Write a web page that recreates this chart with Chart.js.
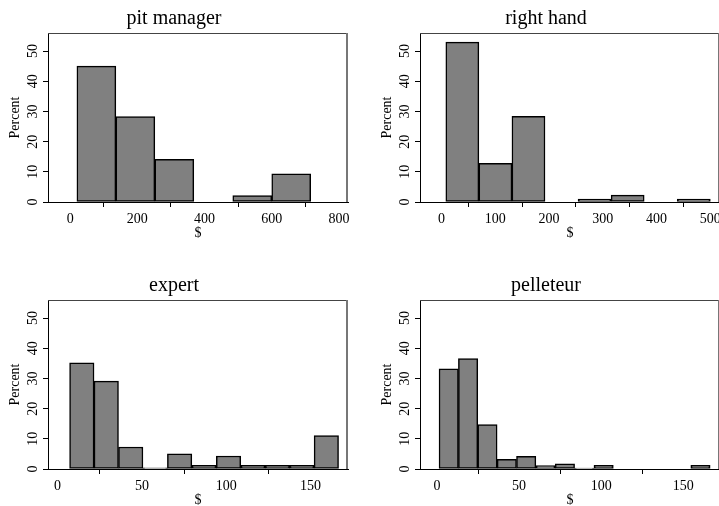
<!DOCTYPE html>
<html lang="en">
<head>
    <meta charset="UTF-8">
    <title>Histograms by job</title>
    <script src="https://cdn.jsdelivr.net/npm/chart.js"></script>
    <style>
        body {
            margin: 0;
            background: #fff;
            width: 719px;
            height: 506px;
            overflow: hidden;
            position: relative;
        }
        .panel {
            position: absolute;
            width: 360px;
            height: 242px;
        }
    </style>
</head>
<body>
    <div class="panel" style="left:0;top:0"><canvas id="c1"></canvas></div>
    <div class="panel" style="left:372px;top:0"><canvas id="c2"></canvas></div>
    <div class="panel" style="left:0;top:267px"><canvas id="c3"></canvas></div>
    <div class="panel" style="left:372px;top:267px"><canvas id="c4"></canvas></div>
    <script>
        // bin edges and percent per bin
        const pitEdges = [20, 136, 252, 368, 484, 600, 716];
        const pitPercent = [45, 28.3, 14.1, 0, 2.1, 9.3];
        const pitTicks = [0, 200, 400, 600, 800];

        const rightEdges = [8, 69.5, 131, 192.5, 254, 315.5, 377, 438.5, 500];
        const rightPercent = [53, 12.8, 28.4, 0, 1, 2.3, 0, 1];
        const rightTicks = [0, 100, 200, 300, 400, 500];

        const expertEdges = [7.1, 21.6, 36.1, 50.6, 65.1, 79.6, 94.1, 108.6, 123.1, 137.6, 152.1, 166.6];
        const expertPercent = [35.2, 29.1, 7.3, 0.4, 5, 1.2, 4.3, 1.2, 1.2, 1.2, 11.1];
        const expertTicks = [0, 50, 100, 150];

        const pellEdges = [1.2, 13, 24.8, 36.6, 48.4, 60.2, 72, 83.8, 95.6, 107.4, 119.2, 131, 142.8, 154.6, 166.4];
        const pellPercent = [33.2, 36.6, 14.7, 3.2, 4.2, 1.1, 1.7, 0.3, 1.2, 0, 0, 0, 0, 1.2];
        const pellTicks = [0, 50, 100, 150];

        const percentTicks = [0, 10, 20, 30, 40, 50];

        const serif = "'Liberation Serif', 'Times New Roman', serif";

        // draws the top and right sides of the plot box
        const frame = {
            id: 'frame',
            afterDraw(chart) {
                const a = chart.chartArea;
                const ctx = chart.ctx;
                ctx.save();
                ctx.strokeStyle = '#444';
                ctx.lineWidth = 1;
                ctx.beginPath();
                ctx.moveTo(a.left, a.top + 0.5);
                ctx.lineTo(a.right, a.top + 0.5);
                ctx.stroke();
                ctx.strokeStyle = '#777';
                ctx.lineWidth = 2;
                ctx.beginPath();
                ctx.moveTo(a.right - 1, a.top);
                ctx.lineTo(a.right - 1, a.bottom);
                ctx.stroke();
                ctx.restore();
            }
        };

        function histogram(id, title, edges, percent, xTicks, xMin, xMax) {
            const points = percent.map((p, i) => ({ x: (edges[i] + edges[i + 1]) / 2, y: p }));
            new Chart(document.getElementById(id), {
                type: 'bar',
                data: {
                    datasets: [{
                        data: points,
                        backgroundColor: '#808080',
                        borderColor: '#000',
                        borderWidth: 1.5,
                        borderSkipped: false,
                        barPercentage: 1,
                        categoryPercentage: 1
                    }]
                },
                plugins: [frame],
                options: {
                    responsive: true,
                    maintainAspectRatio: false,
                    animation: false,
                    layout: { padding: { left: 0, right: 12, top: 0, bottom: 0 } },
                    plugins: {
                        legend: { display: false },
                        tooltip: { enabled: false },
                        title: {
                            display: true,
                            text: title,
                            color: '#000',
                            font: { family: serif, size: 20, weight: 'normal' },
                            padding: { top: 7, bottom: 2 }
                        }
                    },
                    scales: {
                        x: {
                            type: 'linear',
                            min: xMin,
                            max: xMax,
                            offset: false,
                            afterBuildTicks: s => { s.ticks = xTicks.map(v => ({ value: v })); },
                            afterFit: s => { s.height = 40; },
                            grid: { drawOnChartArea: false, drawTicks: true, tickLength: 5, color: '#000' },
                            border: { display: true, color: '#000', width: 1 },
                            ticks: { color: '#000', padding: 4, maxRotation: 0, font: { family: serif, size: 14 } },
                            title: {
                                display: true,
                                text: '$',
                                color: '#000',
                                font: { family: serif, size: 14 },
                                padding: { top: 0, bottom: 0 }
                            }
                        },
                        y: {
                            min: 0,
                            max: 56,
                            afterBuildTicks: s => { s.ticks = percentTicks.map(v => ({ value: v })); },
                            afterFit: s => { s.width = 48; },
                            grid: { drawOnChartArea: false, drawTicks: true, tickLength: 5, color: '#000' },
                            border: { display: true, color: '#000', width: 1 },
                            ticks: {
                                color: '#000',
                                padding: 3,
                                minRotation: 90,
                                maxRotation: 90,
                                crossAlign: 'center',
                                font: { family: serif, size: 14 }
                            },
                            title: {
                                display: true,
                                text: 'Percent',
                                color: '#000',
                                font: { family: serif, size: 14 },
                                padding: { top: 6.6, bottom: 0 }
                            }
                        }
                    }
                }
            });
        }

        histogram('c1', 'pit manager', pitEdges, pitPercent, pitTicks, -66, 827);
        histogram('c2', 'right hand', rightEdges, rightPercent, rightTicks, -40, 518);
        histogram('c3', 'expert', expertEdges, expertPercent, expertTicks, -5.7, 172.2);
        histogram('c4', 'pelleteur', pellEdges, pellPercent, pellTicks, -10.4, 172.4);
    </script>
</body>
</html>
